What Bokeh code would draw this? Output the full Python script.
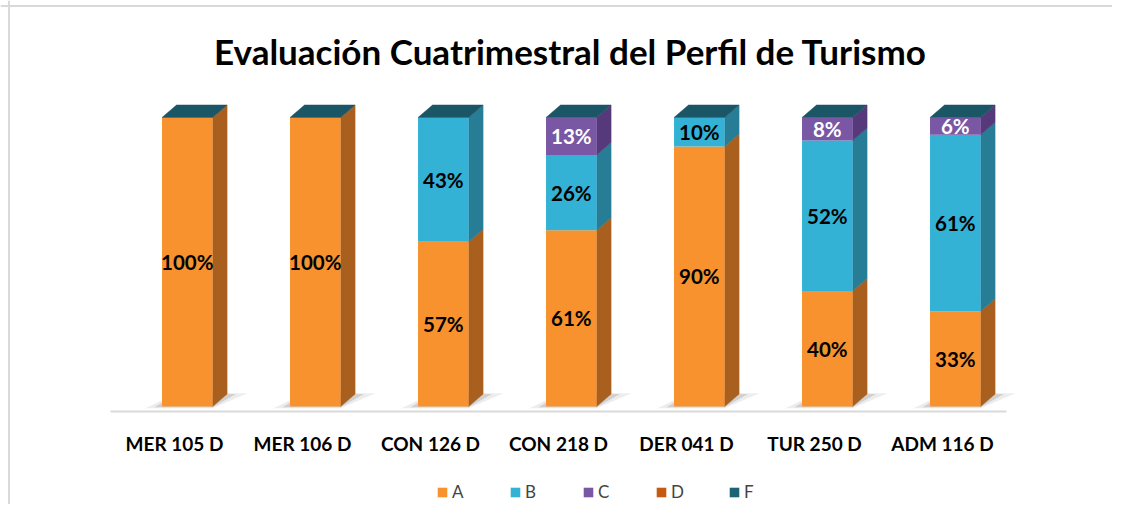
from bokeh.plotting import figure
from bokeh.models import Range1d, Legend, LegendItem, ColumnDataSource, Span
from bokeh.embed import file_html
from bokeh.resources import INLINE
from bokeh.core.properties import value

# ---------------- data ----------------
categories = ["MER 105 D", "MER 106 D", "CON 126 D", "CON 218 D", "DER 041 D", "TUR 250 D", "ADM 116 D"]
series_names = ["A", "B", "C", "D", "F"]
A = [100, 100, 57, 61, 90, 40, 33]
B = [0, 0, 43, 26, 10, 52, 61]
C = [0, 0, 0, 13, 0, 8, 6]
D = [0, 0, 0, 0, 0, 0, 0]
F = [0, 0, 0, 0, 0, 0, 0]
chart_title = "Evaluación Cuatrimestral del Perfil de Turismo"
series_values = {"A": A, "B": B, "C": C, "D": D, "F": F}

# ---------------- style ----------------
front_colors = {"A": "#F7922E", "B": "#33B2D5", "C": "#7A57A4", "D": "#C55A11", "F": "#1E6373"}
side_colors = {"A": "#A9601F", "B": "#267D95", "C": "#56397B", "D": "#8A3F0C", "F": "#15454F"}
top_color = "#1B5666"
label_colors = {"A": "black", "B": "black", "C": "white", "D": "black", "F": "white"}
FONT = "Lato"

W, H = 1112, 504
PX_PER_CAT = 128.0
X0 = 110.0            # px of category axis start
Y0 = 406.0            # px of value 0
PX_PER_PCT = 2.89

bar_offset = 0.10     # 3-D shift of the front face
half_w = 0.1975
depth_x = 14.5 / PX_PER_CAT
depth_y = 12.5 / PX_PER_PCT

p = figure(width=W, height=H, output_backend="svg", toolbar_location=None,
           x_range=Range1d(-X0 / PX_PER_CAT, (W - X0) / PX_PER_CAT),
           y_range=Range1d((Y0 - H) / PX_PER_PCT, Y0 / PX_PER_PCT),
           x_axis_location=None, y_axis_location=None,
           min_border=0, min_border_left=0, min_border_right=0,
           min_border_top=0, min_border_bottom=0)
p.grid.visible = False
p.outline_line_color = None
p.background_fill_color = "white"
p.border_fill_color = "white"

# chart border (top/left edges visible)
p.add_layout(Span(location=8.5, location_units="screen", dimension="height",
                  line_color="#D9D9D9", line_width=2))
p.add_layout(Span(location=H - 5.5, location_units="screen", dimension="width",
                  line_color="#D9D9D9", line_width=2))

n = len(categories)
centers = [i + 0.5 for i in range(n)]
totals = [sum(series_values[s][i] for s in series_names) for i in range(n)]

# shadows under bars
sh_xs, sh_ys = [], []
sh2_xs, sh2_ys = [], []
for i in range(n):
    xc = centers[i] + bar_offset
    xl, xr = xc - half_w, xc + half_w
    sh_xs.append([xl - 0.13, xr, xr + depth_x + 0.16, xl + depth_x])
    sh_ys.append([-0.6, -0.6, depth_y + 0.3, depth_y + 0.3])
    sh2_xs.append([xl - 0.06, xr, xr + depth_x + 0.07, xl + depth_x])
    sh2_ys.append([-0.3, -0.3, depth_y, depth_y])
p.patches(sh_xs, sh_ys, fill_color="#9A9A9A", fill_alpha=0.18, line_color=None)
p.patches(sh2_xs, sh2_ys, fill_color="#7A7A7A", fill_alpha=0.25, line_color=None)

# baseline (category axis line)
base_y = (Y0 - 411) / PX_PER_PCT
p.segment(x0=[0], y0=[base_y], x1=[n], y1=[base_y], line_color="#D9D9D9", line_width=2)

legend_renderers = {}
lab_x, lab_y, lab_t, lab_c = [], [], [], []
side_data = {s: ([], []) for s in series_names}
front_data = {s: dict(left=[], right=[], bottom=[], top=[]) for s in series_names}
for i in range(n):
    xc = centers[i] + bar_offset
    xl, xr = xc - half_w, xc + half_w
    base = 0
    for s in series_names:
        v = series_values[s][i]
        lo, hi = base, base + v
        front_data[s]["left"].append(xl)
        front_data[s]["right"].append(xr)
        front_data[s]["bottom"].append(lo)
        front_data[s]["top"].append(hi)
        base = hi
        if v <= 0:
            continue
        side_data[s][0].append([xr, xr + depth_x, xr + depth_x, xr])
        side_data[s][1].append([lo, lo + depth_y, hi + depth_y, hi])
        lab_x.append(xc)
        lab_y.append((lo + hi) / 2)
        lab_t.append(f"{v}%")
        lab_c.append(label_colors[s])

for s in series_names:
    xs, ys = side_data[s]
    if xs:
        p.patches(xs, ys, fill_color=side_colors[s], line_color=side_colors[s], line_width=0.5)
for s in series_names:
    r = p.quad(source=ColumnDataSource(front_data[s]), left="left", right="right",
               bottom="bottom", top="top", fill_color=front_colors[s], line_color=None)
    legend_renderers[s] = r

# top faces
top_xs, top_ys = [], []
for i in range(n):
    xc = centers[i] + bar_offset
    xl, xr = xc - half_w, xc + half_w
    T = totals[i]
    top_xs.append([xl, xr, xr + depth_x, xl + depth_x])
    top_ys.append([T, T, T + depth_y, T + depth_y])
p.patches(top_xs, top_ys, fill_color=top_color, line_color=top_color, line_width=0.5)

# data labels
p.text(x=lab_x, y=lab_y, text=lab_t, text_color=lab_c,
       text_font=value(FONT), text_font_style="bold", text_font_size="20.5px",
       text_align="center", text_baseline="middle")

# category labels
cat_y = (Y0 - 443) / PX_PER_PCT
p.text(x=centers, y=[cat_y] * n, text=categories, text_color="black",
       text_font=value(FONT), text_font_style="bold", text_font_size="19px",
       text_align="center", text_baseline="middle")

# title
p.text(x=[(570 - X0) / PX_PER_CAT], y=[(Y0 - 50) / PX_PER_PCT], text=[chart_title],
       text_color="black", text_font=value(FONT), text_font_style="bold",
       text_font_size="35px", text_align="center", text_baseline="middle")

legend = Legend(items=[LegendItem(label=s, renderers=[legend_renderers[s]]) for s in series_names],
                orientation="horizontal", location=(436, 2),
                glyph_width=12, glyph_height=12, label_standoff=4, label_width=47,
                spacing=10, padding=0, margin=0, border_line_color=None,
                background_fill_alpha=0, label_text_font=FONT, label_text_font_size="17px")
p.add_layout(legend)

open("out.html", "w").write(file_html(p, INLINE))
